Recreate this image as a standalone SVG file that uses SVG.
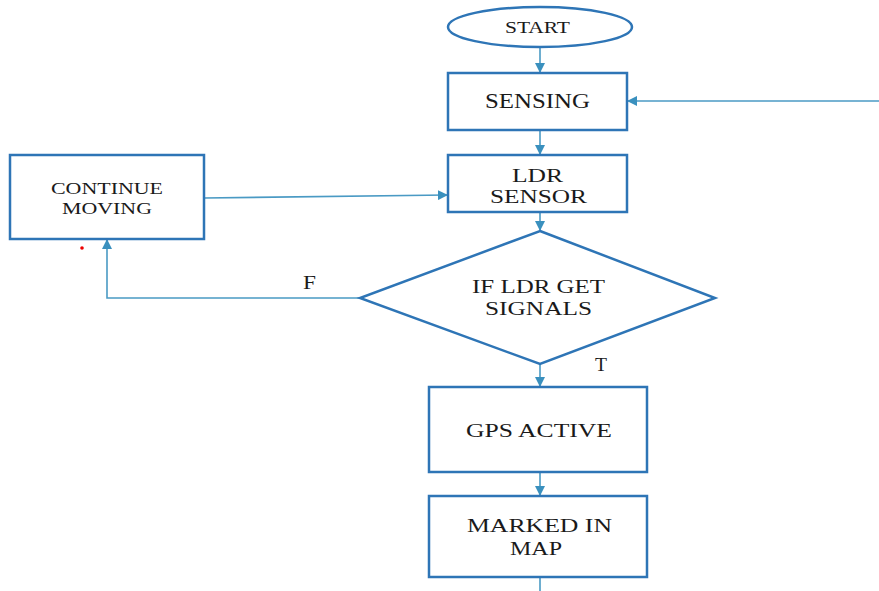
<svg xmlns="http://www.w3.org/2000/svg" width="879" height="591" viewBox="0 0 879 591">
<style>
.n{fill:#fff;stroke:#2E75B6;stroke-width:2.5}
.c{fill:none;stroke:#4A9AC4;stroke-width:1.6}
.tx{font-family:'Liberation Serif','DejaVu Serif','Times New Roman',serif;fill:#1a1a1a;text-anchor:start}
</style>
<defs>
<marker id="a" markerWidth="10" markerHeight="10" refX="9" refY="5" orient="auto" markerUnits="userSpaceOnUse">
<path d="M0,0 L10,5 L0,10 z" fill="#3A90BE"/>
</marker>
</defs>
<rect width="879" height="591" fill="#fff"/>
<g id="connectors">
<line class="c" x1="540" y1="47" x2="540" y2="72" marker-end="url(#a)"/>
<line class="c" x1="540" y1="130" x2="540" y2="154" marker-end="url(#a)"/>
<line class="c" x1="879" y1="101" x2="628" y2="101" marker-end="url(#a)"/>
<line class="c" x1="204" y1="198" x2="447" y2="195" marker-end="url(#a)"/>
<line class="c" x1="540" y1="212" x2="540" y2="230" marker-end="url(#a)"/>
<polyline class="c" points="360,298 107,298 107,240" marker-end="url(#a)"/>
<line class="c" x1="540" y1="364" x2="540" y2="386" marker-end="url(#a)"/>
<line class="c" x1="540" y1="472" x2="540" y2="495" marker-end="url(#a)"/>
<line class="c" x1="540" y1="577" x2="540" y2="591"/>
<text class="tx" x="303" y="289" font-size="19" textLength="13" lengthAdjust="spacingAndGlyphs">F</text>
<text class="tx" x="595" y="371" font-size="19" textLength="12" lengthAdjust="spacingAndGlyphs">T</text>
</g>
<g id="start">
<ellipse class="n" cx="540" cy="27" rx="92" ry="20"/>
<text class="tx" x="505" y="33" font-size="16" textLength="65" lengthAdjust="spacingAndGlyphs">START</text>
</g>
<g id="sensing">
<rect class="n" x="448" y="73" width="179" height="57"/>
<text class="tx" x="485" y="108" font-size="21" textLength="105" lengthAdjust="spacingAndGlyphs">SENSING</text>
</g>
<g id="ldr">
<rect class="n" x="448" y="155" width="179" height="57"/>
<text class="tx" x="512" y="182" font-size="18" textLength="51" lengthAdjust="spacingAndGlyphs">LDR</text>
<text class="tx" x="490" y="203" font-size="18" textLength="97" lengthAdjust="spacingAndGlyphs">SENSOR</text>
</g>
<g id="continue">
<rect class="n" x="10" y="155" width="194" height="84"/>
<text class="tx" x="51" y="194" font-size="16" textLength="112" lengthAdjust="spacingAndGlyphs">CONTINUE</text>
<text class="tx" x="62" y="214" font-size="16" textLength="90" lengthAdjust="spacingAndGlyphs">MOVING</text>
</g>
<g id="decision">
<polygon class="n" points="540,231 715,298 540,364 360,298"/>
<text class="tx" x="472" y="293" font-size="19" textLength="133" lengthAdjust="spacingAndGlyphs">IF LDR GET</text>
<text class="tx" x="485" y="315" font-size="19" textLength="107" lengthAdjust="spacingAndGlyphs">SIGNALS</text>
</g>
<g id="gps">
<rect class="n" x="429" y="387" width="218" height="85"/>
<text class="tx" x="466" y="437" font-size="19" textLength="146" lengthAdjust="spacingAndGlyphs">GPS ACTIVE</text>
</g>
<g id="map">
<rect class="n" x="429" y="496" width="218" height="81"/>
<text class="tx" x="467" y="532" font-size="19" textLength="145" lengthAdjust="spacingAndGlyphs">MARKED IN</text>
<text class="tx" x="510" y="555" font-size="19" textLength="52" lengthAdjust="spacingAndGlyphs">MAP</text>
</g>
<circle cx="82" cy="248" r="1.8" fill="#e00"/>
</svg>
